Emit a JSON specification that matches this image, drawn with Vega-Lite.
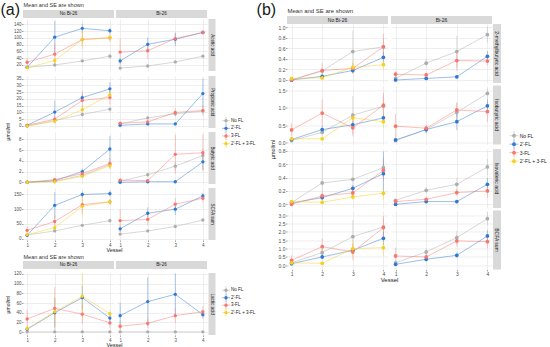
{
"$schema":"https://vega.github.io/schema/vega-lite/v6.json",
"background":"white",
"padding":{"left":0,"top":0,"right":0,"bottom":0},
"config":{"font":"Liberation Sans","view":{"stroke":null},
"axis":{"domain":false,"grid":true,"gridColor":"#e3e3e3","gridWidth":0.6,"tickColor":"#4d4d4d","tickSize":1.5,"tickWidth":0.5,"labelFontSize":4.5,"labelColor":"#4d4d4d","labelPadding":0.5,"labelOverlap":false,"labelFlush":false,"titleFontWeight":"normal"},
"title":{"fontWeight":"normal","color":"#1a1a1a","font":"Liberation Sans"}},
"datasets":{
"leg":[{"s":"No FL","o":0},{"s":"2'-FL","o":1},{"s":"3-FL","o":2},{"s":"2'-FL + 3-FL","o":3}],
"d":[
{"k":"a1N","s":"No FL","v":1,"m":13,"e":1},{"k":"a1N","s":"No FL","v":2,"m":20,"e":2},{"k":"a1N","s":"No FL","v":3,"m":32,"e":3},{"k":"a1N","s":"No FL","v":4,"m":46,"e":8},
{"k":"a1N","s":"2'-FL","v":1,"m":13,"e":3},{"k":"a1N","s":"2'-FL","v":2,"m":102,"e":48},{"k":"a1N","s":"2'-FL","v":3,"m":128,"e":14},{"k":"a1N","s":"2'-FL","v":4,"m":121,"e":9},
{"k":"a1N","s":"3-FL","v":1,"m":28,"e":12},{"k":"a1N","s":"3-FL","v":2,"m":52,"e":30},{"k":"a1N","s":"3-FL","v":3,"m":95,"e":20},{"k":"a1N","s":"3-FL","v":4,"m":100,"e":12},
{"k":"a1N","s":"2'-FL + 3-FL","v":1,"m":12,"e":2},{"k":"a1N","s":"2'-FL + 3-FL","v":2,"m":33,"e":8},{"k":"a1N","s":"2'-FL + 3-FL","v":3,"m":95,"e":28},{"k":"a1N","s":"2'-FL + 3-FL","v":4,"m":101,"e":9},
{"k":"a1B","s":"No FL","v":1,"m":11,"e":1},{"k":"a1B","s":"No FL","v":2,"m":17,"e":2},{"k":"a1B","s":"No FL","v":3,"m":29,"e":3},{"k":"a1B","s":"No FL","v":4,"m":46,"e":3},
{"k":"a1B","s":"2'-FL","v":1,"m":32,"e":8},{"k":"a1B","s":"2'-FL","v":2,"m":81,"e":20},{"k":"a1B","s":"2'-FL","v":3,"m":96,"e":20},{"k":"a1B","s":"2'-FL","v":4,"m":116,"e":5},
{"k":"a1B","s":"3-FL","v":1,"m":58,"e":40},{"k":"a1B","s":"3-FL","v":2,"m":62,"e":25},{"k":"a1B","s":"3-FL","v":3,"m":98,"e":15},{"k":"a1B","s":"3-FL","v":4,"m":116,"e":8},
{"k":"a2N","s":"No FL","v":1,"m":0,"e":0.3},{"k":"a2N","s":"No FL","v":2,"m":4,"e":1},{"k":"a2N","s":"No FL","v":3,"m":8.5,"e":1.5},{"k":"a2N","s":"No FL","v":4,"m":12.5,"e":2},
{"k":"a2N","s":"2'-FL","v":1,"m":0.5,"e":0.3},{"k":"a2N","s":"2'-FL","v":2,"m":10.3,"e":8.5},{"k":"a2N","s":"2'-FL","v":3,"m":21,"e":3},{"k":"a2N","s":"2'-FL","v":4,"m":27.5,"e":5},
{"k":"a2N","s":"3-FL","v":1,"m":0.5,"e":0.5},{"k":"a2N","s":"3-FL","v":2,"m":5,"e":2},{"k":"a2N","s":"3-FL","v":3,"m":19,"e":7},{"k":"a2N","s":"3-FL","v":4,"m":21,"e":5},
{"k":"a2N","s":"2'-FL + 3-FL","v":1,"m":0,"e":0.3},{"k":"a2N","s":"2'-FL + 3-FL","v":2,"m":3.5,"e":1},{"k":"a2N","s":"2'-FL + 3-FL","v":3,"m":12,"e":3},{"k":"a2N","s":"2'-FL + 3-FL","v":4,"m":23,"e":3},
{"k":"a2B","s":"No FL","v":1,"m":1.5,"e":0.5},{"k":"a2B","s":"No FL","v":2,"m":6,"e":1},{"k":"a2B","s":"No FL","v":3,"m":9,"e":1.5},{"k":"a2B","s":"No FL","v":4,"m":11,"e":1.5},
{"k":"a2B","s":"2'-FL","v":1,"m":0.5,"e":0.3},{"k":"a2B","s":"2'-FL","v":2,"m":1.5,"e":0.5},{"k":"a2B","s":"2'-FL","v":3,"m":1.5,"e":0.5},{"k":"a2B","s":"2'-FL","v":4,"m":24,"e":11},
{"k":"a2B","s":"3-FL","v":1,"m":2,"e":1},{"k":"a2B","s":"3-FL","v":2,"m":3,"e":1},{"k":"a2B","s":"3-FL","v":3,"m":10,"e":3},{"k":"a2B","s":"3-FL","v":4,"m":11.5,"e":4},
{"k":"a3N","s":"No FL","v":1,"m":0,"e":0.05},{"k":"a3N","s":"No FL","v":2,"m":0.2,"e":0.1},{"k":"a3N","s":"No FL","v":3,"m":1.3,"e":0.3},{"k":"a3N","s":"No FL","v":4,"m":3.3,"e":0.5},
{"k":"a3N","s":"2'-FL","v":1,"m":0,"e":0.05},{"k":"a3N","s":"2'-FL","v":2,"m":0.3,"e":0.2},{"k":"a3N","s":"2'-FL","v":3,"m":2.0,"e":0.5},{"k":"a3N","s":"2'-FL","v":4,"m":6.2,"e":2.4},
{"k":"a3N","s":"3-FL","v":1,"m":0,"e":0.05},{"k":"a3N","s":"3-FL","v":2,"m":0.5,"e":0.3},{"k":"a3N","s":"3-FL","v":3,"m":1.6,"e":0.5},{"k":"a3N","s":"3-FL","v":4,"m":3.5,"e":1.0},
{"k":"a3N","s":"2'-FL + 3-FL","v":1,"m":0,"e":0.05},{"k":"a3N","s":"2'-FL + 3-FL","v":2,"m":0.1,"e":0.1},{"k":"a3N","s":"2'-FL + 3-FL","v":3,"m":1.1,"e":0.4},{"k":"a3N","s":"2'-FL + 3-FL","v":4,"m":3.1,"e":0.6},
{"k":"a3B","s":"No FL","v":1,"m":0.2,"e":0.1},{"k":"a3B","s":"No FL","v":2,"m":1.4,"e":0.4},{"k":"a3B","s":"No FL","v":3,"m":3.0,"e":0.8},{"k":"a3B","s":"No FL","v":4,"m":5.0,"e":1.2},
{"k":"a3B","s":"2'-FL","v":1,"m":0,"e":0.05},{"k":"a3B","s":"2'-FL","v":2,"m":0.1,"e":0.1},{"k":"a3B","s":"2'-FL","v":3,"m":0.1,"e":0.1},{"k":"a3B","s":"2'-FL","v":4,"m":3.8,"e":1.5},
{"k":"a3B","s":"3-FL","v":1,"m":0.4,"e":0.3},{"k":"a3B","s":"3-FL","v":2,"m":0.3,"e":0.2},{"k":"a3B","s":"3-FL","v":3,"m":5.2,"e":3.6},{"k":"a3B","s":"3-FL","v":4,"m":5.5,"e":3.4},
{"k":"a4N","s":"No FL","v":1,"m":12,"e":2},{"k":"a4N","s":"No FL","v":2,"m":26,"e":3},{"k":"a4N","s":"No FL","v":3,"m":45,"e":5},{"k":"a4N","s":"No FL","v":4,"m":61,"e":8},
{"k":"a4N","s":"2'-FL","v":1,"m":11,"e":3},{"k":"a4N","s":"2'-FL","v":2,"m":113,"e":45},{"k":"a4N","s":"2'-FL","v":3,"m":150,"e":10},{"k":"a4N","s":"2'-FL","v":4,"m":153,"e":10},
{"k":"a4N","s":"3-FL","v":1,"m":28,"e":12},{"k":"a4N","s":"3-FL","v":2,"m":58,"e":20},{"k":"a4N","s":"3-FL","v":3,"m":115,"e":30},{"k":"a4N","s":"3-FL","v":4,"m":125,"e":10},
{"k":"a4N","s":"2'-FL + 3-FL","v":1,"m":13,"e":3},{"k":"a4N","s":"2'-FL + 3-FL","v":2,"m":37,"e":10},{"k":"a4N","s":"2'-FL + 3-FL","v":3,"m":110,"e":35},{"k":"a4N","s":"2'-FL + 3-FL","v":4,"m":125,"e":10},
{"k":"a4B","s":"No FL","v":1,"m":15,"e":2},{"k":"a4B","s":"No FL","v":2,"m":26,"e":3},{"k":"a4B","s":"No FL","v":3,"m":41,"e":5},{"k":"a4B","s":"No FL","v":4,"m":63,"e":5},
{"k":"a4B","s":"2'-FL","v":1,"m":33,"e":10},{"k":"a4B","s":"2'-FL","v":2,"m":86,"e":20},{"k":"a4B","s":"2'-FL","v":3,"m":100,"e":20},{"k":"a4B","s":"2'-FL","v":4,"m":145,"e":10},
{"k":"a4B","s":"3-FL","v":1,"m":61,"e":39},{"k":"a4B","s":"3-FL","v":2,"m":65,"e":20},{"k":"a4B","s":"3-FL","v":3,"m":117,"e":20},{"k":"a4B","s":"3-FL","v":4,"m":137,"e":15},
{"k":"a5N","s":"No FL","v":1,"m":0.5,"e":0.3},{"k":"a5N","s":"No FL","v":2,"m":0.5,"e":0.3},{"k":"a5N","s":"No FL","v":3,"m":0.5,"e":0.3},{"k":"a5N","s":"No FL","v":4,"m":0.5,"e":0.3},
{"k":"a5N","s":"2'-FL","v":1,"m":6,"e":3},{"k":"a5N","s":"2'-FL","v":2,"m":40,"e":30},{"k":"a5N","s":"2'-FL","v":3,"m":71,"e":25},{"k":"a5N","s":"2'-FL","v":4,"m":29,"e":8},
{"k":"a5N","s":"3-FL","v":1,"m":27,"e":20},{"k":"a5N","s":"3-FL","v":2,"m":49,"e":44},{"k":"a5N","s":"3-FL","v":3,"m":37,"e":20},{"k":"a5N","s":"3-FL","v":4,"m":19,"e":10},
{"k":"a5N","s":"2'-FL + 3-FL","v":1,"m":7,"e":4},{"k":"a5N","s":"2'-FL + 3-FL","v":2,"m":42,"e":30},{"k":"a5N","s":"2'-FL + 3-FL","v":3,"m":74,"e":48},{"k":"a5N","s":"2'-FL + 3-FL","v":4,"m":38,"e":8},
{"k":"a5B","s":"No FL","v":1,"m":0.5,"e":0.3},{"k":"a5B","s":"No FL","v":2,"m":0.5,"e":0.3},{"k":"a5B","s":"No FL","v":3,"m":0.5,"e":0.3},{"k":"a5B","s":"No FL","v":4,"m":0.5,"e":0.3},
{"k":"a5B","s":"2'-FL","v":1,"m":34,"e":27},{"k":"a5B","s":"2'-FL","v":2,"m":63,"e":50},{"k":"a5B","s":"2'-FL","v":3,"m":78,"e":43},{"k":"a5B","s":"2'-FL","v":4,"m":36,"e":8},
{"k":"a5B","s":"3-FL","v":1,"m":12,"e":10},{"k":"a5B","s":"3-FL","v":2,"m":18,"e":10},{"k":"a5B","s":"3-FL","v":3,"m":34,"e":15},{"k":"a5B","s":"3-FL","v":4,"m":42,"e":12},
{"k":"b1N","s":"No FL","v":1,"m":0,"e":0.01},{"k":"b1N","s":"No FL","v":2,"m":0.17,"e":0.06},{"k":"b1N","s":"No FL","v":3,"m":0.54,"e":0.4},{"k":"b1N","s":"No FL","v":4,"m":0.63,"e":0.15},
{"k":"b1N","s":"2'-FL","v":1,"m":0,"e":0.01},{"k":"b1N","s":"2'-FL","v":2,"m":0.07,"e":0.03},{"k":"b1N","s":"2'-FL","v":3,"m":0.18,"e":0.05},{"k":"b1N","s":"2'-FL","v":4,"m":0.43,"e":0.1},
{"k":"b1N","s":"3-FL","v":1,"m":0,"e":0.01},{"k":"b1N","s":"3-FL","v":2,"m":0.18,"e":0.14},{"k":"b1N","s":"3-FL","v":3,"m":0.22,"e":0.1},{"k":"b1N","s":"3-FL","v":4,"m":0.63,"e":0.25},
{"k":"b1N","s":"2'-FL + 3-FL","v":1,"m":0.03,"e":0.01},{"k":"b1N","s":"2'-FL + 3-FL","v":2,"m":0.04,"e":0.02},{"k":"b1N","s":"2'-FL + 3-FL","v":3,"m":0.24,"e":0.12},{"k":"b1N","s":"2'-FL + 3-FL","v":4,"m":0.29,"e":0.1},
{"k":"b1B","s":"No FL","v":1,"m":0.03,"e":0.01},{"k":"b1B","s":"No FL","v":2,"m":0.32,"e":0.08},{"k":"b1B","s":"No FL","v":3,"m":0.54,"e":0.3},{"k":"b1B","s":"No FL","v":4,"m":0.86,"e":0.15},
{"k":"b1B","s":"2'-FL","v":1,"m":0,"e":0.01},{"k":"b1B","s":"2'-FL","v":2,"m":0.03,"e":0.02},{"k":"b1B","s":"2'-FL","v":3,"m":0.06,"e":0.03},{"k":"b1B","s":"2'-FL","v":4,"m":0.45,"e":0.1},
{"k":"b1B","s":"3-FL","v":1,"m":0.11,"e":0.06},{"k":"b1B","s":"3-FL","v":2,"m":0.095,"e":0.05},{"k":"b1B","s":"3-FL","v":3,"m":0.37,"e":0.2},{"k":"b1B","s":"3-FL","v":4,"m":0.36,"e":0.08},
{"k":"b2N","s":"No FL","v":1,"m":0.05,"e":0.02},{"k":"b2N","s":"No FL","v":2,"m":0.29,"e":0.1},{"k":"b2N","s":"No FL","v":3,"m":0.79,"e":0.55},{"k":"b2N","s":"No FL","v":4,"m":1.05,"e":0.3},
{"k":"b2N","s":"2'-FL","v":1,"m":0.08,"e":0.03},{"k":"b2N","s":"2'-FL","v":2,"m":0.37,"e":0.1},{"k":"b2N","s":"2'-FL","v":3,"m":0.51,"e":0.1},{"k":"b2N","s":"2'-FL","v":4,"m":0.71,"e":0.1},
{"k":"b2N","s":"3-FL","v":1,"m":0.36,"e":0.2},{"k":"b2N","s":"3-FL","v":2,"m":0.85,"e":0.4},{"k":"b2N","s":"3-FL","v":3,"m":0.42,"e":0.25},{"k":"b2N","s":"3-FL","v":4,"m":1.08,"e":0.36},
{"k":"b2N","s":"2'-FL + 3-FL","v":1,"m":0.1,"e":0.03},{"k":"b2N","s":"2'-FL + 3-FL","v":2,"m":0.1,"e":0.03},{"k":"b2N","s":"2'-FL + 3-FL","v":3,"m":0.71,"e":0.15},{"k":"b2N","s":"2'-FL + 3-FL","v":4,"m":0.6,"e":0.2},
{"k":"b2B","s":"No FL","v":1,"m":0.05,"e":0.02},{"k":"b2B","s":"No FL","v":2,"m":0.37,"e":0.08},{"k":"b2B","s":"No FL","v":3,"m":0.87,"e":0.3},{"k":"b2B","s":"No FL","v":4,"m":1.42,"e":0.15},
{"k":"b2B","s":"2'-FL","v":1,"m":0.07,"e":0.03},{"k":"b2B","s":"2'-FL","v":2,"m":0.37,"e":0.1},{"k":"b2B","s":"2'-FL","v":3,"m":0.6,"e":0.25},{"k":"b2B","s":"2'-FL","v":4,"m":1.06,"e":0.2},
{"k":"b2B","s":"3-FL","v":1,"m":0.47,"e":0.35},{"k":"b2B","s":"3-FL","v":2,"m":0.41,"e":0.1},{"k":"b2B","s":"3-FL","v":3,"m":0.94,"e":0.2},{"k":"b2B","s":"3-FL","v":4,"m":0.89,"e":0.3},
{"k":"b3N","s":"No FL","v":1,"m":0.025,"e":0.01},{"k":"b3N","s":"No FL","v":2,"m":0.32,"e":0.3},{"k":"b3N","s":"No FL","v":3,"m":0.375,"e":0.25},{"k":"b3N","s":"No FL","v":4,"m":0.55,"e":0.15},
{"k":"b3N","s":"2'-FL","v":1,"m":0.02,"e":0.01},{"k":"b3N","s":"2'-FL","v":2,"m":0.1,"e":0.03},{"k":"b3N","s":"2'-FL","v":3,"m":0.24,"e":0.05},{"k":"b3N","s":"2'-FL","v":4,"m":0.46,"e":0.33},
{"k":"b3N","s":"3-FL","v":1,"m":0,"e":0.01},{"k":"b3N","s":"3-FL","v":2,"m":0.125,"e":0.05},{"k":"b3N","s":"3-FL","v":3,"m":0.17,"e":0.05},{"k":"b3N","s":"3-FL","v":4,"m":0.51,"e":0.15},
{"k":"b3N","s":"2'-FL + 3-FL","v":1,"m":0.04,"e":0.02},{"k":"b3N","s":"2'-FL + 3-FL","v":2,"m":0.03,"e":0.02},{"k":"b3N","s":"2'-FL + 3-FL","v":3,"m":0.11,"e":0.05},{"k":"b3N","s":"2'-FL + 3-FL","v":4,"m":0.165,"e":0.1},
{"k":"b3B","s":"No FL","v":1,"m":0.06,"e":0.02},{"k":"b3B","s":"No FL","v":2,"m":0.21,"e":0.05},{"k":"b3B","s":"No FL","v":3,"m":0.3,"e":0.1},{"k":"b3B","s":"No FL","v":4,"m":0.56,"e":0.12},
{"k":"b3B","s":"2'-FL","v":1,"m":0,"e":0.01},{"k":"b3B","s":"2'-FL","v":2,"m":0.04,"e":0.02},{"k":"b3B","s":"2'-FL","v":3,"m":0.04,"e":0.02},{"k":"b3B","s":"2'-FL","v":4,"m":0.3,"e":0.1},
{"k":"b3B","s":"3-FL","v":1,"m":0.04,"e":0.02},{"k":"b3B","s":"3-FL","v":2,"m":0.075,"e":0.03},{"k":"b3B","s":"3-FL","v":3,"m":0.175,"e":0.05},{"k":"b3B","s":"3-FL","v":4,"m":0.2,"e":0.1},
{"k":"b4N","s":"No FL","v":1,"m":0.15,"e":0.05},{"k":"b4N","s":"No FL","v":2,"m":0.76,"e":0.2},{"k":"b4N","s":"No FL","v":3,"m":1.72,"e":1.0},{"k":"b4N","s":"No FL","v":4,"m":2.3,"e":0.5},
{"k":"b4N","s":"2'-FL","v":1,"m":0.1,"e":0.05},{"k":"b4N","s":"2'-FL","v":2,"m":0.5,"e":0.15},{"k":"b4N","s":"2'-FL","v":3,"m":0.9,"e":0.2},{"k":"b4N","s":"2'-FL","v":4,"m":1.62,"e":0.4},
{"k":"b4N","s":"3-FL","v":1,"m":0.3,"e":0.3},{"k":"b4N","s":"3-FL","v":2,"m":1.12,"e":0.5},{"k":"b4N","s":"3-FL","v":3,"m":0.8,"e":0.5},{"k":"b4N","s":"3-FL","v":4,"m":2.26,"e":0.7},
{"k":"b4N","s":"2'-FL + 3-FL","v":1,"m":0.15,"e":0.05},{"k":"b4N","s":"2'-FL + 3-FL","v":2,"m":0.12,"e":0.05},{"k":"b4N","s":"2'-FL + 3-FL","v":3,"m":1.0,"e":0.5},{"k":"b4N","s":"2'-FL + 3-FL","v":4,"m":1.06,"e":0.5},
{"k":"b4B","s":"No FL","v":1,"m":0.15,"e":0.05},{"k":"b4B","s":"No FL","v":2,"m":0.8,"e":0.2},{"k":"b4B","s":"No FL","v":3,"m":1.66,"e":0.4},{"k":"b4B","s":"No FL","v":4,"m":2.8,"e":0.4},
{"k":"b4B","s":"2'-FL","v":1,"m":0.06,"e":0.04},{"k":"b4B","s":"2'-FL","v":2,"m":0.36,"e":0.1},{"k":"b4B","s":"2'-FL","v":3,"m":0.6,"e":0.15},{"k":"b4B","s":"2'-FL","v":4,"m":1.76,"e":0.35},
{"k":"b4B","s":"3-FL","v":1,"m":0.56,"e":0.5},{"k":"b4B","s":"3-FL","v":2,"m":0.5,"e":0.3},{"k":"b4B","s":"3-FL","v":3,"m":1.46,"e":0.35},{"k":"b4B","s":"3-FL","v":4,"m":1.42,"e":0.4}
]},
"spacing":0,
"hconcat":[
{"title":{"text":"(a)","anchor":"start","frame":"bounds","fontSize":16,"dx":-6,"dy":18,"offset":0},
 "spacing":0,
 "vconcat":[
 {"spacing":0,"vconcat":[
  {"width":1,"height":10,"data":{"values":[{"t":"Mean and SE are shown"}]},"mark":{"type":"text","align":"left","baseline":"middle","fontSize":5.5,"color":"#333333"},"encoding":{"text":{"field":"t"}}},
  {"spacing":4,"hconcat":[
   {"title":{"text":"µmol/ml","orient":"left","anchor":"middle","frame":"bounds","fontSize":5,"offset":2},
    "vconcat":[
     {"title":{"text":"Vessel","orient":"bottom","anchor":"middle","frame":"bounds","fontSize":5.5,"offset":1.2},
      "spacing":4,
      "vconcat":[
       {"spacing":1,"vconcat":[
        {"spacing":2,"hconcat":[
         {"width":91,"height":8,"view":{"fill":"#d9d9d9","stroke":null},"data":{"values":[{"t":"No Bi-26"}]},"mark":{"type":"text","fontSize":4.5,"color":"#1a1a1a","baseline":"middle"},"encoding":{"text":{"field":"t"}}},
         {"width":91,"height":8,"view":{"fill":"#d9d9d9","stroke":null},"data":{"values":[{"t":"Bi-26"}]},"mark":{"type":"text","fontSize":4.5,"color":"#1a1a1a","baseline":"middle"},"encoding":{"text":{"field":"t"}}}
        ]},
        {"spacing":1.5,"hconcat":[
         {"spacing":2,"hconcat":[
          {"width":91,"height":52,"data":{"name":"d"},"transform":[{"filter":"datum.k=='a1N'"}],
           "encoding":{"x":{"field":"v","type":"quantitative","scale":{"domain":[0.85,4.15],"nice":false,"zero":false},"axis":{"values":[1,2,3,4],"labels":false,"ticks":false,"title":null}},
            "y":{"field":"m","type":"quantitative","scale":{"domain":[2.3,155.6],"nice":false,"zero":false},"axis":{"values":[20,40,60,80,100,120,140],"title":null}},
            "color":{"field":"s","type":"nominal","scale":{"domain":["No FL","2'-FL","3-FL","2'-FL + 3-FL"],"range":["#adadad","#2f78d3","#f8766d","#f5cf1d"]},"legend":null}},
           "layer":[{"mark":{"type":"errorbar","thickness":0.7,"opacity":0.55},"encoding":{"yError":{"field":"e"}}},{"mark":{"type":"line","strokeWidth":0.8,"opacity":0.6}},{"mark":{"type":"point","filled":true,"size":11,"opacity":1}}]},
          {"width":91,"height":52,"data":{"name":"d"},"transform":[{"filter":"datum.k=='a1B'"}],
           "encoding":{"x":{"field":"v","type":"quantitative","scale":{"domain":[0.85,4.15],"nice":false,"zero":false},"axis":{"values":[1,2,3,4],"labels":false,"ticks":false,"title":null}},
            "y":{"field":"m","type":"quantitative","scale":{"domain":[2.3,155.6],"nice":false,"zero":false},"axis":{"values":[20,40,60,80,100,120,140],"labels":false,"ticks":false,"title":null}},
            "color":{"field":"s","type":"nominal","scale":{"domain":["No FL","2'-FL","3-FL","2'-FL + 3-FL"],"range":["#adadad","#2f78d3","#f8766d","#f5cf1d"]},"legend":null}},
           "layer":[{"mark":{"type":"errorbar","thickness":0.7,"opacity":0.55},"encoding":{"yError":{"field":"e"}}},{"mark":{"type":"line","strokeWidth":0.8,"opacity":0.6}},{"mark":{"type":"point","filled":true,"size":11,"opacity":1}}]}
         ]},
         {"width":7,"height":52,"view":{"fill":"#d9d9d9","stroke":null},"data":{"values":[{"t":"Acetic acid"}]},"mark":{"type":"text","angle":90,"fontSize":4.5,"color":"#1a1a1a","baseline":"middle"},"encoding":{"text":{"field":"t"}}}
        ]}
       ]},
       {"spacing":1.5,"hconcat":[
        {"spacing":2,"hconcat":[
         {"width":91,"height":52,"data":{"name":"d"},"transform":[{"filter":"datum.k=='a2N'"}],
          "encoding":{"x":{"field":"v","type":"quantitative","scale":{"domain":[0.85,4.15],"nice":false,"zero":false},"axis":{"values":[1,2,3,4],"labels":false,"ticks":false,"title":null}},
           "y":{"field":"m","type":"quantitative","scale":{"domain":[-1.5,37.0],"nice":false,"zero":false},"axis":{"values":[0,5,10,15,20,25,30,35],"title":null}},
           "color":{"field":"s","type":"nominal","scale":{"domain":["No FL","2'-FL","3-FL","2'-FL + 3-FL"],"range":["#adadad","#2f78d3","#f8766d","#f5cf1d"]},"legend":null}},
          "layer":[{"mark":{"type":"errorbar","thickness":0.7,"opacity":0.55},"encoding":{"yError":{"field":"e"}}},{"mark":{"type":"line","strokeWidth":0.8,"opacity":0.6}},{"mark":{"type":"point","filled":true,"size":11,"opacity":1}}]},
         {"width":91,"height":52,"data":{"name":"d"},"transform":[{"filter":"datum.k=='a2B'"}],
          "encoding":{"x":{"field":"v","type":"quantitative","scale":{"domain":[0.85,4.15],"nice":false,"zero":false},"axis":{"values":[1,2,3,4],"labels":false,"ticks":false,"title":null}},
           "y":{"field":"m","type":"quantitative","scale":{"domain":[-1.5,37.0],"nice":false,"zero":false},"axis":{"values":[0,5,10,15,20,25,30,35],"labels":false,"ticks":false,"title":null}},
           "color":{"field":"s","type":"nominal","scale":{"domain":["No FL","2'-FL","3-FL","2'-FL + 3-FL"],"range":["#adadad","#2f78d3","#f8766d","#f5cf1d"]},"legend":null}},
          "layer":[{"mark":{"type":"errorbar","thickness":0.7,"opacity":0.55},"encoding":{"yError":{"field":"e"}}},{"mark":{"type":"line","strokeWidth":0.8,"opacity":0.6}},{"mark":{"type":"point","filled":true,"size":11,"opacity":1}}]}
        ]},
        {"width":7,"height":52,"view":{"fill":"#d9d9d9","stroke":null},"data":{"values":[{"t":"Propionic acid"}]},"mark":{"type":"text","angle":90,"fontSize":4.5,"color":"#1a1a1a","baseline":"middle"},"encoding":{"text":{"field":"t"}}}
       ]},
       {"spacing":1.5,"hconcat":[
        {"spacing":2,"hconcat":[
         {"width":91,"height":52,"data":{"name":"d"},"transform":[{"filter":"datum.k=='a3N'"}],
          "encoding":{"x":{"field":"v","type":"quantitative","scale":{"domain":[0.85,4.15],"nice":false,"zero":false},"axis":{"values":[1,2,3,4],"labels":false,"ticks":false,"title":null}},
           "y":{"field":"m","type":"quantitative","scale":{"domain":[-0.32,9.36],"nice":false,"zero":false},"axis":{"values":[0,2,4,6,8],"title":null}},
           "color":{"field":"s","type":"nominal","scale":{"domain":["No FL","2'-FL","3-FL","2'-FL + 3-FL"],"range":["#adadad","#2f78d3","#f8766d","#f5cf1d"]},"legend":null}},
          "layer":[{"mark":{"type":"errorbar","thickness":0.7,"opacity":0.55},"encoding":{"yError":{"field":"e"}}},{"mark":{"type":"line","strokeWidth":0.8,"opacity":0.6}},{"mark":{"type":"point","filled":true,"size":11,"opacity":1}}]},
         {"width":91,"height":52,"data":{"name":"d"},"transform":[{"filter":"datum.k=='a3B'"}],
          "encoding":{"x":{"field":"v","type":"quantitative","scale":{"domain":[0.85,4.15],"nice":false,"zero":false},"axis":{"values":[1,2,3,4],"labels":false,"ticks":false,"title":null}},
           "y":{"field":"m","type":"quantitative","scale":{"domain":[-0.32,9.36],"nice":false,"zero":false},"axis":{"values":[0,2,4,6,8],"labels":false,"ticks":false,"title":null}},
           "color":{"field":"s","type":"nominal","scale":{"domain":["No FL","2'-FL","3-FL","2'-FL + 3-FL"],"range":["#adadad","#2f78d3","#f8766d","#f5cf1d"]},"legend":null}},
          "layer":[{"mark":{"type":"errorbar","thickness":0.7,"opacity":0.55},"encoding":{"yError":{"field":"e"}}},{"mark":{"type":"line","strokeWidth":0.8,"opacity":0.6}},{"mark":{"type":"point","filled":true,"size":11,"opacity":1}}]}
        ]},
        {"width":7,"height":52,"view":{"fill":"#d9d9d9","stroke":null},"data":{"values":[{"t":"Butyric acid"}]},"mark":{"type":"text","angle":90,"fontSize":4.5,"color":"#1a1a1a","baseline":"middle"},"encoding":{"text":{"field":"t"}}}
       ]},
       {"spacing":1.5,"hconcat":[
        {"spacing":2,"hconcat":[
         {"width":91,"height":52,"data":{"name":"d"},"transform":[{"filter":"datum.k=='a4N'"}],
          "encoding":{"x":{"field":"v","type":"quantitative","scale":{"domain":[0.85,4.15],"nice":false,"zero":false},"axis":{"values":[1,2,3,4],"format":"d","title":null}},
           "y":{"field":"m","type":"quantitative","scale":{"domain":[-5,172],"nice":false,"zero":false},"axis":{"values":[0,50,100,150],"title":null}},
           "color":{"field":"s","type":"nominal","scale":{"domain":["No FL","2'-FL","3-FL","2'-FL + 3-FL"],"range":["#adadad","#2f78d3","#f8766d","#f5cf1d"]},"legend":null}},
          "layer":[{"mark":{"type":"errorbar","thickness":0.7,"opacity":0.55},"encoding":{"yError":{"field":"e"}}},{"mark":{"type":"line","strokeWidth":0.8,"opacity":0.6}},{"mark":{"type":"point","filled":true,"size":11,"opacity":1}}]},
         {"width":91,"height":52,"data":{"name":"d"},"transform":[{"filter":"datum.k=='a4B'"}],
          "encoding":{"x":{"field":"v","type":"quantitative","scale":{"domain":[0.85,4.15],"nice":false,"zero":false},"axis":{"values":[1,2,3,4],"format":"d","title":null}},
           "y":{"field":"m","type":"quantitative","scale":{"domain":[-5,172],"nice":false,"zero":false},"axis":{"values":[0,50,100,150],"labels":false,"ticks":false,"title":null}},
           "color":{"field":"s","type":"nominal","scale":{"domain":["No FL","2'-FL","3-FL","2'-FL + 3-FL"],"range":["#adadad","#2f78d3","#f8766d","#f5cf1d"]},"legend":null}},
          "layer":[{"mark":{"type":"errorbar","thickness":0.7,"opacity":0.55},"encoding":{"yError":{"field":"e"}}},{"mark":{"type":"line","strokeWidth":0.8,"opacity":0.6}},{"mark":{"type":"point","filled":true,"size":11,"opacity":1}}]}
        ]},
        {"width":7,"height":52,"view":{"fill":"#d9d9d9","stroke":null},"data":{"values":[{"t":"SCFA sum"}]},"mark":{"type":"text","angle":90,"fontSize":4.5,"color":"#1a1a1a","baseline":"middle"},"encoding":{"text":{"field":"t"}}}
       ]}
      ]}
    ]},
   {"width":10,"height":229,"data":{"name":"leg"},
    "encoding":{"y":{"field":"o","type":"quantitative","scale":{"domain":[-14.43,15.43],"reverse":true,"nice":false,"zero":false},"axis":null},
     "color":{"field":"s","type":"nominal","scale":{"domain":["No FL","2'-FL","3-FL","2'-FL + 3-FL"],"range":["#adadad","#2f78d3","#f8766d","#f5cf1d"]},"legend":null}},
    "layer":[{"mark":{"type":"point","shape":"M-1,0H1M0,-1V1","size":64,"strokeWidth":0.7,"filled":false,"opacity":0.7}},
     {"mark":{"type":"point","filled":true,"size":11,"opacity":1}},
     {"mark":{"type":"text","align":"left","dx":5,"fontSize":4.5,"baseline":"middle"},"encoding":{"text":{"field":"s"},"color":{"value":"#1a1a1a"}}}]}
  ]}
 ]},
 {"spacing":0,"vconcat":[
  {"width":1,"height":6,"data":{"values":[{"t":"Mean and SE are shown"}]},"mark":{"type":"text","align":"left","baseline":"middle","fontSize":5.5,"color":"#333333"},"encoding":{"text":{"field":"t"}}},
  {"spacing":4,"hconcat":[
   {"title":{"text":"µmol/ml","orient":"left","anchor":"middle","frame":"bounds","fontSize":5,"offset":2},
    "vconcat":[
     {"title":{"text":"Vessel","orient":"bottom","anchor":"middle","frame":"bounds","fontSize":5.5,"offset":1.2},
      "spacing":1,
      "vconcat":[
       {"spacing":2,"hconcat":[
        {"width":91,"height":8,"view":{"fill":"#d9d9d9","stroke":null},"data":{"values":[{"t":"No Bi-26"}]},"mark":{"type":"text","fontSize":4.5,"color":"#1a1a1a","baseline":"middle"},"encoding":{"text":{"field":"t"}}},
        {"width":91,"height":8,"view":{"fill":"#d9d9d9","stroke":null},"data":{"values":[{"t":"Bi-26"}]},"mark":{"type":"text","fontSize":4.5,"color":"#1a1a1a","baseline":"middle"},"encoding":{"text":{"field":"t"}}}
       ]},
       {"spacing":1.5,"hconcat":[
        {"spacing":2,"hconcat":[
         {"width":91,"height":62,"data":{"name":"d"},"transform":[{"filter":"datum.k=='a5N'"}],
          "encoding":{"x":{"field":"v","type":"quantitative","scale":{"domain":[0.85,4.15],"nice":false,"zero":false},"axis":{"values":[1,2,3,4],"format":"d","title":null}},
           "y":{"field":"m","type":"quantitative","scale":{"domain":[-6,122],"nice":false,"zero":false},"axis":{"values":[0,20,40,60,80,100,120],"title":null}},
           "color":{"field":"s","type":"nominal","scale":{"domain":["No FL","2'-FL","3-FL","2'-FL + 3-FL"],"range":["#adadad","#2f78d3","#f8766d","#f5cf1d"]},"legend":null}},
          "layer":[{"mark":{"type":"errorbar","thickness":0.7,"opacity":0.55},"encoding":{"yError":{"field":"e"}}},{"mark":{"type":"line","strokeWidth":0.8,"opacity":0.6}},{"mark":{"type":"point","filled":true,"size":11,"opacity":1}}]},
         {"width":91,"height":62,"data":{"name":"d"},"transform":[{"filter":"datum.k=='a5B'"}],
          "encoding":{"x":{"field":"v","type":"quantitative","scale":{"domain":[0.85,4.15],"nice":false,"zero":false},"axis":{"values":[1,2,3,4],"format":"d","title":null}},
           "y":{"field":"m","type":"quantitative","scale":{"domain":[-6,122],"nice":false,"zero":false},"axis":{"values":[0,20,40,60,80,100,120],"labels":false,"ticks":false,"title":null}},
           "color":{"field":"s","type":"nominal","scale":{"domain":["No FL","2'-FL","3-FL","2'-FL + 3-FL"],"range":["#adadad","#2f78d3","#f8766d","#f5cf1d"]},"legend":null}},
          "layer":[{"mark":{"type":"errorbar","thickness":0.7,"opacity":0.55},"encoding":{"yError":{"field":"e"}}},{"mark":{"type":"line","strokeWidth":0.8,"opacity":0.6}},{"mark":{"type":"point","filled":true,"size":11,"opacity":1}}]}
        ]},
        {"width":7,"height":62,"view":{"fill":"#d9d9d9","stroke":null},"data":{"values":[{"t":"Lactic acid"}]},"mark":{"type":"text","angle":90,"fontSize":4.5,"color":"#1a1a1a","baseline":"middle"},"encoding":{"text":{"field":"t"}}}
       ]}
      ]}
    ]},
   {"width":10,"height":71,"data":{"name":"leg"},
    "encoding":{"y":{"field":"o","type":"quantitative","scale":{"domain":[-3.93,5.6],"reverse":true,"nice":false,"zero":false},"axis":null},
     "color":{"field":"s","type":"nominal","scale":{"domain":["No FL","2'-FL","3-FL","2'-FL + 3-FL"],"range":["#adadad","#2f78d3","#f8766d","#f5cf1d"]},"legend":null}},
    "layer":[{"mark":{"type":"point","shape":"M-1,0H1M0,-1V1","size":64,"strokeWidth":0.7,"filled":false,"opacity":0.7}},
     {"mark":{"type":"point","filled":true,"size":11,"opacity":1}},
     {"mark":{"type":"text","align":"left","dx":5,"fontSize":4.5,"baseline":"middle"},"encoding":{"text":{"field":"s"},"color":{"value":"#1a1a1a"}}}]}
  ]}
 ]}
 ]},
{"title":{"text":"(b)","anchor":"start","frame":"bounds","fontSize":16,"dx":-14,"dy":18,"offset":0},
 "spacing":0,
 "vconcat":[
  {"width":1,"height":16,"data":{"values":[{"t":"Mean and SE are shown"}]},"mark":{"type":"text","align":"left","baseline":"top","fontSize":6,"color":"#333333"},"encoding":{"text":{"field":"t"}}},
  {"spacing":7,"hconcat":[
   {"title":{"text":"µmol/ml","orient":"left","anchor":"middle","frame":"bounds","fontSize":5.5,"offset":2},
    "vconcat":[
     {"title":{"text":"Vessel","orient":"bottom","anchor":"middle","frame":"bounds","fontSize":6,"offset":0.5},
      "spacing":2.5,
      "vconcat":[
       {"spacing":0,"vconcat":[
        {"spacing":3,"hconcat":[
         {"width":101,"height":8,"view":{"fill":"#d9d9d9","stroke":null},"data":{"values":[{"t":"No Bi-26"}]},"mark":{"type":"text","fontSize":5,"color":"#1a1a1a","baseline":"middle"},"encoding":{"text":{"field":"t"}}},
         {"width":101,"height":8,"view":{"fill":"#d9d9d9","stroke":null},"data":{"values":[{"t":"Bi-26"}]},"mark":{"type":"text","fontSize":5,"color":"#1a1a1a","baseline":"middle"},"encoding":{"text":{"field":"t"}}}
        ]},
        {"spacing":1,"hconcat":[
         {"spacing":3,"hconcat":[
          {"width":101,"height":59,"data":{"name":"d"},"transform":[{"filter":"datum.k=='b1N'"}],
           "encoding":{"x":{"field":"v","type":"quantitative","scale":{"domain":[0.85,4.15],"nice":false,"zero":false},"axis":{"values":[1,2,3,4],"labels":false,"ticks":false,"title":null}},
            "y":{"field":"m","type":"quantitative","scale":{"domain":[-0.057,1.063],"nice":false,"zero":false},"axis":{"values":[0,0.2,0.4,0.6,0.8,1.0],"format":".1f","labelFontSize":5,"title":null}},
            "color":{"field":"s","type":"nominal","scale":{"domain":["No FL","2'-FL","3-FL","2'-FL + 3-FL"],"range":["#adadad","#2f78d3","#f8766d","#f5cf1d"]},"legend":null}},
           "layer":[{"mark":{"type":"errorbar","thickness":0.7,"opacity":0.55},"encoding":{"yError":{"field":"e"}}},{"mark":{"type":"line","strokeWidth":0.8,"opacity":0.6}},{"mark":{"type":"point","filled":true,"size":14,"opacity":1}}]},
          {"width":101,"height":59,"data":{"name":"d"},"transform":[{"filter":"datum.k=='b1B'"}],
           "encoding":{"x":{"field":"v","type":"quantitative","scale":{"domain":[0.85,4.15],"nice":false,"zero":false},"axis":{"values":[1,2,3,4],"labels":false,"ticks":false,"title":null}},
            "y":{"field":"m","type":"quantitative","scale":{"domain":[-0.057,1.063],"nice":false,"zero":false},"axis":{"values":[0,0.2,0.4,0.6,0.8,1.0],"labels":false,"ticks":false,"title":null}},
            "color":{"field":"s","type":"nominal","scale":{"domain":["No FL","2'-FL","3-FL","2'-FL + 3-FL"],"range":["#adadad","#2f78d3","#f8766d","#f5cf1d"]},"legend":null}},
           "layer":[{"mark":{"type":"errorbar","thickness":0.7,"opacity":0.55},"encoding":{"yError":{"field":"e"}}},{"mark":{"type":"line","strokeWidth":0.8,"opacity":0.6}},{"mark":{"type":"point","filled":true,"size":14,"opacity":1}}]}
         ]},
         {"width":8,"height":59,"view":{"fill":"#d9d9d9","stroke":null},"data":{"values":[{"t":"2-methylbutyric acid"}]},"mark":{"type":"text","angle":90,"fontSize":5,"color":"#1a1a1a","baseline":"middle"},"encoding":{"text":{"field":"t"}}}
        ]}
       ]},
       {"spacing":1,"hconcat":[
        {"spacing":3,"hconcat":[
         {"width":101,"height":59,"data":{"name":"d"},"transform":[{"filter":"datum.k=='b2N'"}],
          "encoding":{"x":{"field":"v","type":"quantitative","scale":{"domain":[0.85,4.15],"nice":false,"zero":false},"axis":{"values":[1,2,3,4],"labels":false,"ticks":false,"title":null}},
           "y":{"field":"m","type":"quantitative","scale":{"domain":[-0.064,1.651],"nice":false,"zero":false},"axis":{"values":[0,0.5,1.0,1.5],"format":".1f","labelFontSize":5,"title":null}},
           "color":{"field":"s","type":"nominal","scale":{"domain":["No FL","2'-FL","3-FL","2'-FL + 3-FL"],"range":["#adadad","#2f78d3","#f8766d","#f5cf1d"]},"legend":null}},
          "layer":[{"mark":{"type":"errorbar","thickness":0.7,"opacity":0.55},"encoding":{"yError":{"field":"e"}}},{"mark":{"type":"line","strokeWidth":0.8,"opacity":0.6}},{"mark":{"type":"point","filled":true,"size":14,"opacity":1}}]},
         {"width":101,"height":59,"data":{"name":"d"},"transform":[{"filter":"datum.k=='b2B'"}],
          "encoding":{"x":{"field":"v","type":"quantitative","scale":{"domain":[0.85,4.15],"nice":false,"zero":false},"axis":{"values":[1,2,3,4],"labels":false,"ticks":false,"title":null}},
           "y":{"field":"m","type":"quantitative","scale":{"domain":[-0.064,1.651],"nice":false,"zero":false},"axis":{"values":[0,0.5,1.0,1.5],"labels":false,"ticks":false,"title":null}},
           "color":{"field":"s","type":"nominal","scale":{"domain":["No FL","2'-FL","3-FL","2'-FL + 3-FL"],"range":["#adadad","#2f78d3","#f8766d","#f5cf1d"]},"legend":null}},
          "layer":[{"mark":{"type":"errorbar","thickness":0.7,"opacity":0.55},"encoding":{"yError":{"field":"e"}}},{"mark":{"type":"line","strokeWidth":0.8,"opacity":0.6}},{"mark":{"type":"point","filled":true,"size":14,"opacity":1}}]}
        ]},
        {"width":8,"height":59,"view":{"fill":"#d9d9d9","stroke":null},"data":{"values":[{"t":"Isobutyric acid"}]},"mark":{"type":"text","angle":90,"fontSize":5,"color":"#1a1a1a","baseline":"middle"},"encoding":{"text":{"field":"t"}}}
       ]},
       {"spacing":1,"hconcat":[
        {"spacing":3,"hconcat":[
         {"width":101,"height":59,"data":{"name":"d"},"transform":[{"filter":"datum.k=='b3N'"}],
          "encoding":{"x":{"field":"v","type":"quantitative","scale":{"domain":[0.85,4.15],"nice":false,"zero":false},"axis":{"values":[1,2,3,4],"labels":false,"ticks":false,"title":null}},
           "y":{"field":"m","type":"quantitative","scale":{"domain":[-0.056,0.83],"nice":false,"zero":false},"axis":{"values":[0,0.2,0.4,0.6,0.8],"format":".1f","labelFontSize":5,"title":null}},
           "color":{"field":"s","type":"nominal","scale":{"domain":["No FL","2'-FL","3-FL","2'-FL + 3-FL"],"range":["#adadad","#2f78d3","#f8766d","#f5cf1d"]},"legend":null}},
          "layer":[{"mark":{"type":"errorbar","thickness":0.7,"opacity":0.55},"encoding":{"yError":{"field":"e"}}},{"mark":{"type":"line","strokeWidth":0.8,"opacity":0.6}},{"mark":{"type":"point","filled":true,"size":14,"opacity":1}}]},
         {"width":101,"height":59,"data":{"name":"d"},"transform":[{"filter":"datum.k=='b3B'"}],
          "encoding":{"x":{"field":"v","type":"quantitative","scale":{"domain":[0.85,4.15],"nice":false,"zero":false},"axis":{"values":[1,2,3,4],"labels":false,"ticks":false,"title":null}},
           "y":{"field":"m","type":"quantitative","scale":{"domain":[-0.056,0.83],"nice":false,"zero":false},"axis":{"values":[0,0.2,0.4,0.6,0.8],"labels":false,"ticks":false,"title":null}},
           "color":{"field":"s","type":"nominal","scale":{"domain":["No FL","2'-FL","3-FL","2'-FL + 3-FL"],"range":["#adadad","#2f78d3","#f8766d","#f5cf1d"]},"legend":null}},
          "layer":[{"mark":{"type":"errorbar","thickness":0.7,"opacity":0.55},"encoding":{"yError":{"field":"e"}}},{"mark":{"type":"line","strokeWidth":0.8,"opacity":0.6}},{"mark":{"type":"point","filled":true,"size":14,"opacity":1}}]}
        ]},
        {"width":8,"height":59,"view":{"fill":"#d9d9d9","stroke":null},"data":{"values":[{"t":"Isovaleric acid"}]},"mark":{"type":"text","angle":90,"fontSize":5,"color":"#1a1a1a","baseline":"middle"},"encoding":{"text":{"field":"t"}}}
       ]},
       {"spacing":1,"hconcat":[
        {"spacing":3,"hconcat":[
         {"width":101,"height":59,"data":{"name":"d"},"transform":[{"filter":"datum.k=='b4N'"}],
          "encoding":{"x":{"field":"v","type":"quantitative","scale":{"domain":[0.85,4.15],"nice":false,"zero":false},"axis":{"values":[1,2,3,4],"format":"d","labelFontSize":5,"title":null}},
           "y":{"field":"m","type":"quantitative","scale":{"domain":[-0.252,3.288],"nice":false,"zero":false},"axis":{"values":[0,0.5,1.0,1.5,2.0,2.5,3.0],"format":".1f","labelFontSize":5,"title":null}},
           "color":{"field":"s","type":"nominal","scale":{"domain":["No FL","2'-FL","3-FL","2'-FL + 3-FL"],"range":["#adadad","#2f78d3","#f8766d","#f5cf1d"]},"legend":null}},
          "layer":[{"mark":{"type":"errorbar","thickness":0.7,"opacity":0.55},"encoding":{"yError":{"field":"e"}}},{"mark":{"type":"line","strokeWidth":0.8,"opacity":0.6}},{"mark":{"type":"point","filled":true,"size":14,"opacity":1}}]},
         {"width":101,"height":59,"data":{"name":"d"},"transform":[{"filter":"datum.k=='b4B'"}],
          "encoding":{"x":{"field":"v","type":"quantitative","scale":{"domain":[0.85,4.15],"nice":false,"zero":false},"axis":{"values":[1,2,3,4],"format":"d","labelFontSize":5,"title":null}},
           "y":{"field":"m","type":"quantitative","scale":{"domain":[-0.252,3.288],"nice":false,"zero":false},"axis":{"values":[0,0.5,1.0,1.5,2.0,2.5,3.0],"labels":false,"ticks":false,"title":null}},
           "color":{"field":"s","type":"nominal","scale":{"domain":["No FL","2'-FL","3-FL","2'-FL + 3-FL"],"range":["#adadad","#2f78d3","#f8766d","#f5cf1d"]},"legend":null}},
          "layer":[{"mark":{"type":"errorbar","thickness":0.7,"opacity":0.55},"encoding":{"yError":{"field":"e"}}},{"mark":{"type":"line","strokeWidth":0.8,"opacity":0.6}},{"mark":{"type":"point","filled":true,"size":14,"opacity":1}}]}
        ]},
        {"width":8,"height":59,"view":{"fill":"#d9d9d9","stroke":null},"data":{"values":[{"t":"BCFA sum"}]},"mark":{"type":"text","angle":90,"fontSize":5,"color":"#1a1a1a","baseline":"middle"},"encoding":{"text":{"field":"t"}}}
       ]}
      ]}
    ]},
   {"width":10,"height":251,"data":{"name":"leg"},
    "encoding":{"y":{"field":"o","type":"quantitative","scale":{"domain":[-14.08,15.45],"reverse":true,"nice":false,"zero":false},"axis":null},
     "color":{"field":"s","type":"nominal","scale":{"domain":["No FL","2'-FL","3-FL","2'-FL + 3-FL"],"range":["#adadad","#2f78d3","#f8766d","#f5cf1d"]},"legend":null}},
    "layer":[{"mark":{"type":"point","shape":"M-1,0H1M0,-1V1","size":80,"strokeWidth":0.7,"filled":false,"opacity":0.7}},
     {"mark":{"type":"point","filled":true,"size":14,"opacity":1}},
     {"mark":{"type":"text","align":"left","dx":5.7,"fontSize":5,"baseline":"middle"},"encoding":{"text":{"field":"s"},"color":{"value":"#1a1a1a"}}}]}
  ]}
 ]}
]
}
